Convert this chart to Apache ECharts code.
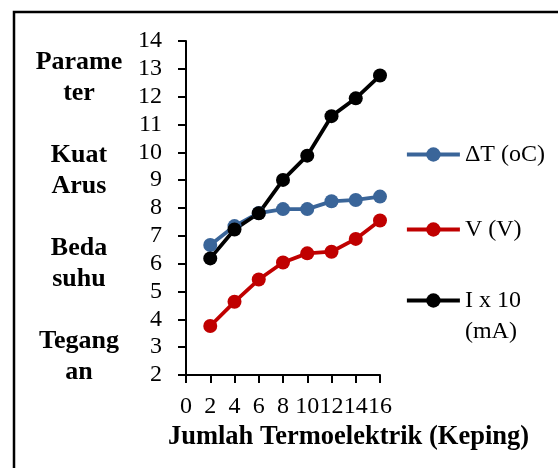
<!DOCTYPE html>
<html>
<head>
<meta charset="utf-8">
<script src="https://cdn.jsdelivr.net/npm/echarts@6/dist/echarts.min.js"></script>
<style>
  html, body { margin: 0; padding: 0; background: #fff; }
  #chart { width: 558px; height: 468px; }
</style>
</head>
<body>
<div id="chart"></div>
<script>
// Jumlah termoelektrik (keping)
const keping = [2, 4, 6, 8, 10, 12, 14, 16];
// Beda suhu ΔT (oC)
const deltaT = [6.67, 7.35, 7.82, 7.96, 7.96, 8.24, 8.29, 8.41];
// Tegangan V (V)
const tegangan = [3.76, 4.63, 5.43, 6.04, 6.37, 6.43, 6.89, 7.55];
// Kuat arus I x 10 (mA)
const arus = [6.19, 7.23, 7.81, 9.01, 9.88, 11.3, 11.94, 12.76];

const seriesNames = ['ΔT (oC)', 'V (V)', 'I x 10 (mA)'];
const seriesColors = ['#3A6599', '#C00000', '#000000'];
const seriesValues = [deltaT, tegangan, arus];

const serif = '"Liberation Serif", "Times New Roman", serif';

const chart = echarts.init(document.getElementById('chart'));

const series = seriesNames.map((name, i) => ({
  name: name,
  type: 'line',
  data: keping.map((k, j) => [k, seriesValues[i][j]]),
  symbol: 'circle',
  symbolSize: 14,
  lineStyle: { width: 3.8, color: seriesColors[i] },
  itemStyle: { color: seriesColors[i] },
  animation: false
}));

function legendFor(name, top, formatter) {
  return {
    data: [name],
    orient: 'vertical',
    left: 405,
    top: top,
    itemWidth: 53,
    itemHeight: 18,
    padding: 0,
    formatter: formatter,
    lineStyle: { width: 3.8 },
    textStyle: { fontFamily: serif, fontSize: 24, color: '#000', lineHeight: 31 },
    selectedMode: false
  };
}

chart.setOption({
  animation: false,
  grid: { left: 186, right: 178, top: 41, bottom: 93 },
  xAxis: {
    type: 'value',
    min: 0,
    max: 16,
    interval: 2,
    axisLine: { show: true, lineStyle: { color: '#000', width: 2 } },
    axisTick: { show: true, length: 8, lineStyle: { color: '#000', width: 2 } },
    axisLabel: { color: '#000', fontFamily: serif, fontSize: 24, margin: 20 },
    splitLine: { show: false }
  },
  yAxis: {
    type: 'value',
    min: 2,
    max: 14,
    interval: 1,
    axisLine: { show: true, lineStyle: { color: '#000', width: 2 } },
    axisTick: { show: true, length: 8, lineStyle: { color: '#000', width: 2 } },
    axisLabel: { color: '#000', fontFamily: serif, fontSize: 24, margin: 24 },
    splitLine: { show: false }
  },
  legend: [
    legendFor(seriesNames[0], 139),
    legendFor(seriesNames[1], 214),
    legendFor(seriesNames[2], 254, () => '\nI x 10\n(mA)')
  ],
  graphic: [
    {
      type: 'polyline',
      shape: { points: [[14, 468], [14, 12], [558, 12]] },
      style: { stroke: '#000', lineWidth: 2.5, fill: null }
    },
    {
      type: 'text',
      x: 79,
      y: 46.5,
      style: {
        text: 'Parame\nter\n\nKuat\nArus\n\nBeda\nsuhu\n\nTegang\nan',
        font: 'bold 26px ' + serif,
        lineHeight: 31,
        align: 'center',
        verticalAlign: 'top',
        fill: '#000'
      }
    },
    {
      type: 'text',
      x: 348.5,
      y: 437,
      style: {
        text: 'Jumlah Termoelektrik (Keping)',
        font: 'bold 26.5px ' + serif,
        align: 'center',
        verticalAlign: 'middle',
        fill: '#000'
      }
    }
  ],
  series: series
});
</script>
</body>
</html>
